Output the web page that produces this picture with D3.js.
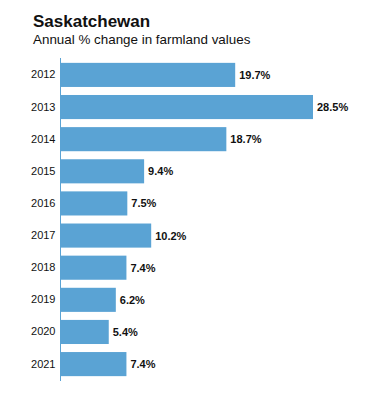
<!DOCTYPE html>
<html>
<head>
<meta charset="utf-8">
<script src="https://cdn.jsdelivr.net/npm/d3@7"></script>
<style>
  body { margin: 0; background: #fff; }
  svg { display: block; font-family: "Liberation Sans", Arial, sans-serif; }
</style>
</head>
<body>
<svg id="chart"></svg>
<script>
// chart data
const years = ["2012", "2013", "2014", "2015", "2016", "2017", "2018", "2019", "2020", "2021"];
const changes = [19.7, 28.5, 18.7, 9.4, 7.5, 10.2, 7.4, 6.2, 5.4, 7.4];

const W = 377, H = 393;
const svg = d3.select("#chart").attr("width", W).attr("height", H);

// title + subtitle
svg.append("text")
    .attr("x", 33).attr("y", 27)
    .attr("font-size", "17px").attr("font-weight", "bold")
    .attr("fill", "#111")
    .text("Saskatchewan");
svg.append("text")
    .attr("x", 33).attr("y", 44)
    .attr("font-size", "13.4px")
    .attr("fill", "#111")
    .text("Annual % change in farmland values");

const left = 61;
const x = d3.scaleLinear().domain([0, 28.5]).range([left, 313]);
const y = d3.scaleBand().domain(years).range([59, 380]).paddingInner(0.25).paddingOuter(0.12);

// bars
svg.selectAll("rect.bar")
    .data(years)
    .enter().append("rect")
    .attr("class", "bar")
    .attr("x", left)
    .attr("y", d => y(d))
    .attr("width", (d, i) => x(changes[i]) - left)
    .attr("height", y.bandwidth())
    .attr("fill", "#5aa3d4");

// value labels
svg.selectAll("text.val")
    .data(years)
    .enter().append("text")
    .attr("class", "val")
    .attr("x", (d, i) => x(changes[i]) + 4)
    .attr("y", d => y(d) + y.bandwidth() / 2)
    .attr("dy", "0.36em")
    .attr("font-size", "11px").attr("font-weight", "bold")
    .attr("fill", "#111")
    .text((d, i) => changes[i].toFixed(1) + "%");

// y axis
const yAxis = d3.axisLeft(y).tickSize(0).tickPadding(5);
const g = svg.append("g")
    .attr("transform", `translate(${left - 0.5},0)`)
    .call(yAxis);
g.select(".domain").attr("stroke", "#5aa3d4").attr("d", "M0,58V381");
g.selectAll("text")
    .attr("font-size", "11px")
    .attr("font-family", "Liberation Sans, Arial, sans-serif")
    .attr("fill", "#111");
</script>
</body>
</html>
